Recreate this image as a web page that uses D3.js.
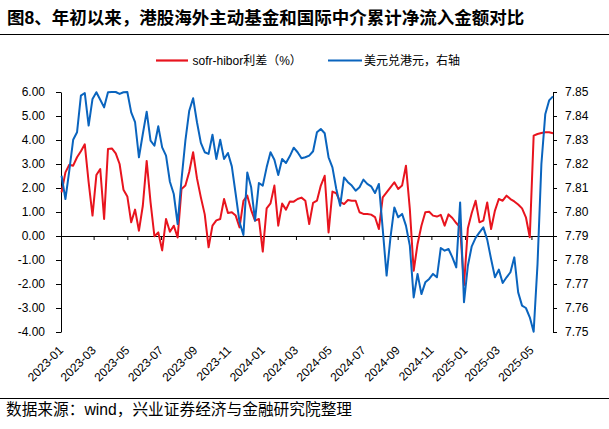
<!DOCTYPE html>
<html><head><meta charset="utf-8">
<script src="https://cdn.jsdelivr.net/npm/d3@7"></script>
<style>
body{margin:0;background:#fff}
svg{display:block}
text{font-family:"Liberation Sans",Arial,"Noto Sans CJK SC",sans-serif;fill:#000}
</style></head>
<body><svg id="c" width="609" height="429"></svg>
<script>
const dates = [
"2023-01-02","2023-01-09","2023-01-16","2023-01-23","2023-01-30","2023-02-06","2023-02-13","2023-02-20","2023-02-27","2023-03-06",
"2023-03-13","2023-03-20","2023-03-27","2023-04-03","2023-04-10","2023-04-17","2023-04-24","2023-05-01","2023-05-08","2023-05-15",
"2023-05-22","2023-05-29","2023-06-05","2023-06-12","2023-06-19","2023-06-26","2023-07-03","2023-07-10","2023-07-17","2023-07-24",
"2023-07-31","2023-08-07","2023-08-14","2023-08-21","2023-08-28","2023-09-04","2023-09-11","2023-09-18","2023-09-25","2023-10-02",
"2023-10-09","2023-10-16","2023-10-23","2023-10-30","2023-11-06","2023-11-13","2023-11-20","2023-11-27","2023-12-04","2023-12-11",
"2023-12-18","2023-12-25","2024-01-01","2024-01-08","2024-01-15","2024-01-22","2024-01-29","2024-02-05","2024-02-12","2024-02-19",
"2024-02-26","2024-03-04","2024-03-11","2024-03-18","2024-03-25","2024-04-01","2024-04-08","2024-04-15","2024-04-22","2024-04-29",
"2024-05-06","2024-05-13","2024-05-20","2024-05-27","2024-06-03","2024-06-10","2024-06-17","2024-06-24","2024-07-01","2024-07-08",
"2024-07-15","2024-07-22","2024-07-29","2024-08-05","2024-08-12","2024-08-19","2024-08-26","2024-09-02","2024-09-09","2024-09-16",
"2024-09-23","2024-09-30","2024-10-07","2024-10-14","2024-10-21","2024-10-28","2024-11-04","2024-11-11","2024-11-18","2024-11-25",
"2024-12-02","2024-12-09","2024-12-16","2024-12-23","2024-12-30","2025-01-06","2025-01-13","2025-01-20","2025-01-27","2025-02-03",
"2025-02-10","2025-02-17","2025-02-24","2025-03-03","2025-03-10","2025-03-17","2025-03-24","2025-03-31","2025-04-07","2025-04-14",
"2025-04-21","2025-04-28","2025-05-05","2025-05-12","2025-05-19","2025-05-26","2025-06-02","2025-06-09"
];
// sofr-hibor spread (%), left axis
const spread = [
1.82,2.65,2.97,2.93,3.28,3.53,3.82,2.24,0.85,2.54,
2.79,0.71,3.63,3.65,3.44,3.00,1.93,1.65,0.57,1.10,
0.22,1.26,3.13,1.40,-0.01,0.15,-0.60,0.71,0.18,0.43,
-0.06,1.96,2.10,2.68,3.49,2.40,1.61,0.90,-0.47,0.43,
0.65,0.71,1.54,0.96,0.99,0.85,0.36,1.46,1.68,1.08,
0.64,0.71,-0.65,1.15,1.36,2.10,0.43,1.35,1.10,1.44,
1.43,1.54,1.60,1.47,0.50,1.38,1.47,2.10,2.51,0.15,
1.85,1.78,1.42,1.33,1.50,1.47,1.47,0.99,0.92,0.92,
0.89,0.79,0.29,1.61,1.82,2.03,2.24,1.96,2.10,2.93,
1.13,-1.45,-0.33,0.43,0.99,1.01,0.85,0.81,0.88,0.43,
0.90,0.75,0.54,0.36,-2.05,0.32,0.96,1.47,0.57,0.64,
1.40,0.29,1.06,1.54,1.47,1.68,1.54,1.44,1.31,1.15,
0.78,-0.05,4.18,4.25,4.29,4.32,4.32,4.28
];
// USD/HKD, right axis
const usdhkd = [
7.8151,7.8054,7.8172,7.8301,7.8332,7.8485,7.8496,7.8360,7.8471,7.8499,
7.8468,7.8436,7.8499,7.8500,7.8500,7.8492,7.8499,7.8500,7.8415,7.8374,
7.8228,7.8325,7.8418,7.8297,7.8276,7.8357,7.8269,7.8235,7.8126,7.8075,
7.7950,7.8135,7.8297,7.8422,7.8474,7.8374,7.8288,7.8249,7.8242,7.8322,
7.8221,7.8301,7.8221,7.8246,7.8190,7.8075,7.7957,7.7904,7.8165,7.8103,
7.7964,7.8121,7.8110,7.8186,7.8249,7.8218,7.8154,7.8221,7.8204,7.8233,
7.8268,7.8249,7.8224,7.8228,7.8235,7.8253,7.8332,7.8346,7.8328,7.8228,
7.8186,7.8096,7.8026,7.8144,7.8124,7.8110,7.8089,7.8103,7.8135,7.8117,
7.8107,7.8079,7.8117,7.7929,7.7735,7.7894,7.8019,7.7978,7.7992,7.7943,
7.7860,7.7644,7.7742,7.7658,7.7707,7.7721,7.7742,7.7728,7.7850,7.7839,
7.7846,7.7811,7.7769,7.8040,7.7624,7.7776,7.7857,7.7892,7.7915,7.7936,
7.7885,7.7804,7.7728,7.7760,7.7704,7.7728,7.7749,7.7811,7.7665,7.7610,
7.7600,7.7561,7.7501,7.7783,7.8200,7.8407,7.8465,7.8482
];
const leftTicks = [6,5,4,3,2,1,0,-1,-2,-3,-4];
const rightTicks = [7.85,7.84,7.83,7.82,7.81,7.80,7.79,7.78,7.77,7.76,7.75];
const xTickLabels = ["2023-01","2023-03","2023-05","2023-07","2023-09","2023-11","2024-01","2024-03","2024-05","2024-07","2024-09","2024-11","2025-01","2025-03","2025-05"];
const seriesNames = ["sofr-hibor利差（%）","美元兑港元，右轴"];
const titleText = "图8、年初以来，港股海外主动基金和国际中介累计净流入金额对比";
const sourceText = "数据来源：wind，兴业证券经济与金融研究院整理";

const RED = "#E8141E", BLUE = "#0A64BE";
const parse = d3.timeParse("%Y-%m-%d");
const parseM = d3.timeParse("%Y-%m");
const svg = d3.select("#c");

const x = d3.scaleTime().domain([new Date(2023,0,1), new Date(2025,5,9)]).range([61,553]);
const yL = d3.scaleLinear().domain([-4,6]).range([332,92]);
const yR = d3.scaleLinear().domain([7.75,7.85]).range([332,92]);

// title
svg.append("text").attr("x",7).attr("y",24).attr("font-size","17.5px").attr("font-weight","bold").text(titleText);
svg.append("line").attr("x1",0).attr("x2",609).attr("y1",34.5).attr("y2",34.5).attr("stroke","#000").attr("stroke-width",1.2);

// legend
svg.append("line").attr("x1",156).attr("x2",188).attr("y1",60.5).attr("y2",60.5).attr("stroke",RED).attr("stroke-width",2.2);
svg.append("text").attr("x",192.5).attr("y",64.5).attr("font-size","12px").text(seriesNames[0]);
svg.append("line").attr("x1",328).attr("x2",362).attr("y1",60.5).attr("y2",60.5).attr("stroke",BLUE).attr("stroke-width",2.2);
svg.append("text").attr("x",364).attr("y",64.5).attr("font-size","12px").text(seriesNames[1]);

// axes
const fmt = d => d.toFixed(2);
const ga = svg.append("g").attr("transform","translate(61,0)")
  .call(d3.axisLeft(yL).tickValues(leftTicks).tickFormat(fmt).tickSize(5).tickSizeOuter(0).tickPadding(11));
const gb = svg.append("g").attr("transform","translate(553,0)")
  .call(d3.axisRight(yR).tickValues(rightTicks).tickFormat(fmt).tickSize(4).tickSizeOuter(0).tickPadding(8));
[ga,gb].forEach(g=>{
  g.selectAll("text").attr("font-size","12px").attr("font-family",null).attr("fill","#000");
  g.selectAll("line,path").attr("stroke","#000");
  g.attr("font-family",null);
});

// zero axis with ticks
const y0 = yL(0);
const xTicks = xTickLabels.map(parseM);
const gx = svg.append("g").attr("transform",`translate(0,${y0})`)
  .call(d3.axisBottom(x).tickValues(xTicks).tickFormat("").tickSize(4).tickSizeOuter(0));
gx.selectAll("line,path").attr("stroke","#000");
gx.select("path").attr("d",`M61,0.5H553`);

// x labels rotated
svg.append("g").selectAll("text").data(xTicks).join("text")
  .attr("transform",d=>`translate(${x(d)+3},${351}) rotate(-45)`)
  .attr("text-anchor","end").attr("font-size","12px")
  .text((d,i)=>xTickLabels[i]);

// lines (blue on secondary axis drawn on top)
const pts = dates.map((d,i)=>({d:parse(d), r:spread[i], b:usdhkd[i]}));
svg.append("path").datum(pts).attr("fill","none").attr("stroke",RED).attr("stroke-width",2)
  .attr("stroke-linejoin","round").attr("d",d3.line().x(p=>x(p.d)).y(p=>yL(p.r)));
svg.append("path").datum(pts).attr("fill","none").attr("stroke",BLUE).attr("stroke-width",2)
  .attr("stroke-linejoin","round").attr("d",d3.line().x(p=>x(p.d)).y(p=>yR(p.b)));

// footer
svg.append("line").attr("x1",0).attr("x2",609).attr("y1",398.5).attr("y2",398.5).attr("stroke","#000").attr("stroke-width",1.2);
svg.append("text").attr("x",6).attr("y",415).attr("font-size","15.7px").text(sourceText);
</script></body></html>
